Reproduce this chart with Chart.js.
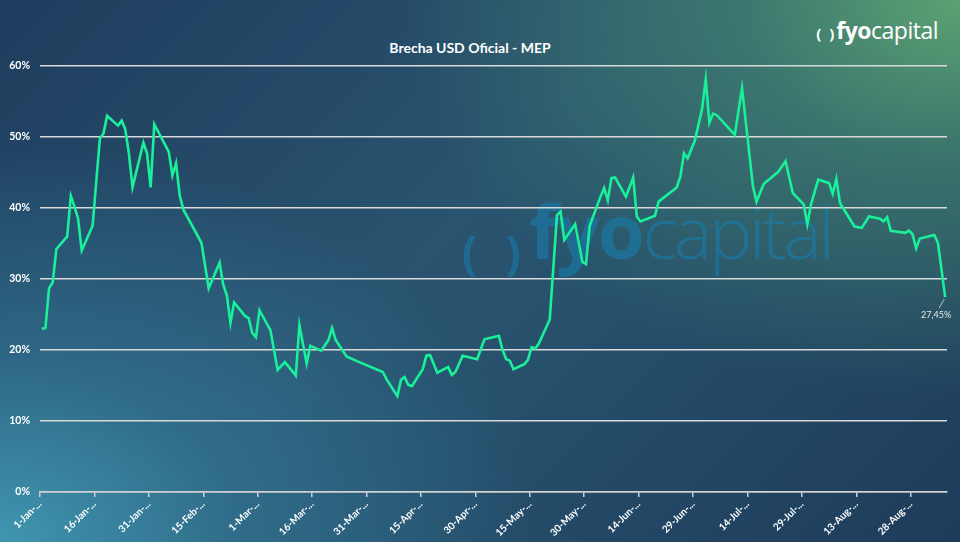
<!DOCTYPE html>
<html>
<head>
<meta charset="utf-8">
<script src="https://cdn.jsdelivr.net/npm/chart.js@4"></script>
<style>
  html, body { margin: 0; padding: 0; }
  #wrap {
    position: relative; width: 960px; height: 542px; overflow: hidden;
    background:
      radial-gradient(ellipse 560px 400px at 100% 0%, rgba(90,162,114,1) 0%, rgba(72,142,112,0.6) 40%, rgba(60,120,110,0) 100%),
      radial-gradient(ellipse 540px 400px at 0% 100%, rgba(64,150,176,1) 0%, rgba(52,124,154,0.6) 45%, rgba(45,100,135,0) 100%),
      linear-gradient(135deg, #1f3d5e 0%, #29536f 45%, #26506c 60%, #1e3b5a 100%);
    font-family: "Open Sans", sans-serif;
  }
  #marca {
    position: absolute; left: 462px; top: 178px; white-space: nowrap;
    color: rgba(22,128,178,0.55); font-size: 76px;
  }
  #marca .par { font-size: 46px; font-weight: 700; letter-spacing: 8px; position: relative; top: 10px; }
  #marca b { font-weight: 700; letter-spacing: -2px; }
  #marca span.cap { font-weight: 300; font-size: 72px; letter-spacing: -3px; }
  #titulo {
    position: absolute; left: 0; width: 940px; top: 39px; text-align: center;
    font-family: Lato, sans-serif; font-weight: 700; font-size: 14px; color: #ffffff;
  }
  #logo {
    position: absolute; right: 22px; top: 14px; color: #ffffff; font-size: 23px; letter-spacing: -0.5px;
  }
  #logo .par { font-size: 15px; font-weight: 700; letter-spacing: 2px; }
  #logo b { font-weight: 700; }
  #logo span.cap { font-weight: 400; }
  canvas { position: absolute; left: 0; top: 0; }
</style>
</head>
<body>
<div id="wrap">
  <div id="marca"><span class="par">( )</span><b>fyo</b><span class="cap">capital</span></div>
  <div id="titulo">Brecha USD Oficial - MEP</div>
  <div id="logo"><span class="par">( )</span><b>fyo</b><span class="cap">capital</span></div>
  <canvas id="brechaChart" width="960" height="542"></canvas>
</div>
<script>
// dias desde el 1-ene (hábiles) y brecha en %
const dias = [0,1,2,3,4,7,8,9,10,11,14,16,17,18,21,22,23,24,25,28,29,30,31,35,36,37,38,39,44,46,
  49,50,51,52,53,56,57,58,59,60,63,65,67,70,71,73,74,77,79,80,81,84,87,94,95,98,99,100,101,102,
  105,106,107,109,112,113,114,116,120,122,126,127,128,129,130,133,134,135,136,137,140,142,143,144,147,149,150,151,154,155,
  156,157,158,161,163,164,165,169,170,175,176,177,178,180,182,183,184,185,186,191,193,196,197,199,
  203,205,207,210,211,212,214,217,218,219,220,224,226,228,231,232,233,234,238,239,240,241,242,246,247,249];
const brecha = [23.0,23.1,28.7,29.5,34.2,36.0,41.7,40.2,38.5,34.0,37.5,49.8,50.5,53.0,51.6,52.3,51.1,47.7,42.9,49.2,47.7,42.9,51.8,47.9,44.6,46.3,41.8,39.8,35.1,28.7,
  32.3,29.2,27.7,23.8,26.7,24.8,24.5,22.4,21.8,25.6,22.8,17.2,18.3,16.4,23.5,18.1,20.6,19.9,21.4,23.1,21.4,19.1,18.4,16.9,15.9,13.5,15.8,16.2,15.1,14.9,
  17.3,19.2,19.3,16.8,17.6,16.5,16.9,19.2,18.7,21.5,22.0,20.0,18.7,18.5,17.3,18.0,18.6,20.4,20.2,20.9,24.3,39.0,39.5,35.5,37.7,32.4,32.1,37.5,41.6,42.8,
  41.1,44.2,44.3,41.6,44.3,38.8,38.1,38.9,40.9,42.9,44.4,47.7,47.0,49.5,54.0,58.1,52.0,53.3,53.1,50.3,56.9,43.1,40.9,43.4,
  45.1,46.6,42.1,40.5,37.7,40.5,44.0,43.5,42.0,44.1,40.7,37.4,37.2,38.8,38.5,38.1,38.7,36.8,36.5,36.8,36.3,34.3,35.7,36.2,35.1,27.45];
const etiquetasX = ['1-Jan-...','16-Jan-...','31-Jan-...','15-Feb-...','1-Mar-...','16-Mar-...','31-Mar-...','15-Apr-...','30-Apr-...',
  '15-May-...','30-May-...','14-Jun-...','29-Jun-...','14-Jul-...','29-Jul-...','13-Aug-...','28-Aug-...'];

// Excel centra cada fecha en su casillero del día
const puntos = dias.map((d, i) => ({ x: d + 0.5, y: brecha[i] }));

// etiqueta del último valor con su línea guía
const ultimoValor = {
  id: 'ultimoValor',
  afterDatasetsDraw(chart) {
    const meta = chart.getDatasetMeta(0);
    const p = meta.data[meta.data.length - 1];
    const ctx = chart.ctx;
    ctx.save();
    ctx.strokeStyle = '#bfbfbf';
    ctx.lineWidth = 1;
    ctx.beginPath();
    ctx.moveTo(p.x - 1, p.y + 2);
    ctx.lineTo(p.x - 6, p.y + 11);
    ctx.stroke();
    ctx.fillStyle = '#e8e8e8';
    ctx.font = '9px Lato, sans-serif';
    ctx.textAlign = 'center';
    ctx.textBaseline = 'top';
    ctx.fillText(brecha[brecha.length - 1].toFixed(2).replace('.', ',') + '%', p.x - 9, p.y + 13);
    ctx.restore();
  }
};

new Chart(document.getElementById('brechaChart').getContext('2d'), {
  type: 'line',
  data: {
    datasets: [{
      label: 'Brecha',
      data: puntos,
      borderColor: '#19f09a',
      borderWidth: 2.6,
      pointRadius: 0,
      tension: 0,
      fill: false
    }]
  },
  options: {
    responsive: false,
    animation: false,
    layout: { autoPadding: false, padding: { top: 66, right: 13, left: 0, bottom: 0 } },
    plugins: { legend: { display: false }, title: { display: false }, tooltip: { enabled: false } },
    scales: {
      x: {
        type: 'linear',
        min: 0,
        max: 250,
        afterFit: (s) => { s.height = 50; },
        border: { display: true, color: '#d0d0d0', width: 1.5 },
        grid: { drawOnChartArea: false, drawTicks: true, tickLength: 5, color: '#d0d0d0', lineWidth: 1.5 },
        ticks: {
          stepSize: 15,
          includeBounds: false,
          autoSkip: false,
          minRotation: 45,
          maxRotation: 45,
          padding: 1,
          color: '#ffffff',
          font: { family: 'Lato', weight: 'bold', size: 10 },
          callback: (v) => etiquetasX[Math.round(v / 15)]
        }
      },
      y: {
        min: 0,
        max: 60,
        afterFit: (s) => { s.width = 40; },
        border: { display: false },
        grid: { drawTicks: false, color: '#d9d9d9', lineWidth: 1.5 },
        ticks: {
          stepSize: 10,
          padding: 10,
          color: '#ffffff',
          font: { family: 'Lato', weight: 'bold', size: 10.5 },
          callback: (v) => v + '%'
        }
      }
    }
  },
  plugins: [ultimoValor]
});
</script>
</body>
</html>
